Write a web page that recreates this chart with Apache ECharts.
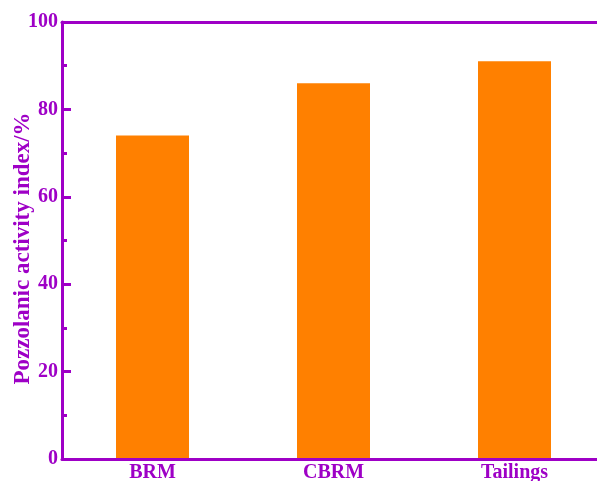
<!DOCTYPE html>
<html><head><meta charset="utf-8">
<script src="https://cdn.jsdelivr.net/npm/echarts@6/dist/echarts.min.js"></script>
<style>html,body{margin:0;padding:0;background:#fff}#c{width:597px;height:481px}</style>
</head><body><div id="c"></div>
<script>
const categories = ["BRM", "CBRM", "Tailings"];
const values = [74, 86, 91];
const yTicks = [0, 20, 40, 60, 80, 100];
const yTitle = "Pozzolanic activity index/%";

const purple = "#9E00C6";
const orange = "#FF8000";
const font = "'Liberation Serif', 'Times New Roman', serif";

const chart = echarts.init(document.getElementById('c'), null, {renderer: 'canvas'});
chart.setOption({
  animation: false,
  grid: {left: 62, top: 22, width: 543, height: 437, containLabel: false, outerBoundsMode: 'none'},
  xAxis: [{
    type: 'category', data: categories, position: 'bottom', z: 5,
    axisLine: {lineStyle: {color: purple, width: 3}},
    axisTick: {inside: true, alignWithLabel: true, length: 8, lineStyle: {color: purple, width: 2}},
    axisLabel: {color: purple, fontFamily: font, fontWeight: 'bold', fontSize: 20, margin: 4}
  }, {
    type: 'category', data: categories, position: 'top', z: 5,
    axisLine: {lineStyle: {color: purple, width: 3}},
    axisTick: {show: false}, axisLabel: {show: false}
  }],
  yAxis: {
    type: 'value', min: yTicks[0], max: yTicks[yTicks.length - 1], interval: 20, z: 5,
    name: yTitle, nameLocation: 'middle', nameGap: 27, nameMoveOverlap: false,
    nameTextStyle: {color: purple, fontFamily: font, fontWeight: 'bold', fontSize: 23, padding: [0, 16, 0, 0]},
    axisLine: {show: true, lineStyle: {color: purple, width: 3}},
    axisTick: {show: true, inside: true, length: 9, lineStyle: {color: purple, width: 3}},
    minorTick: {show: true, splitNumber: 2, length: 5, lineStyle: {color: purple, width: 3}},
    splitLine: {show: false},
    axisLabel: {color: purple, fontFamily: font, fontWeight: 'bold', fontSize: 20, margin: 4}
  },
  series: [{
    type: 'bar', data: values, barWidth: 73, xAxisIndex: 0,
    itemStyle: {color: orange}
  }]
});
</script></body></html>
